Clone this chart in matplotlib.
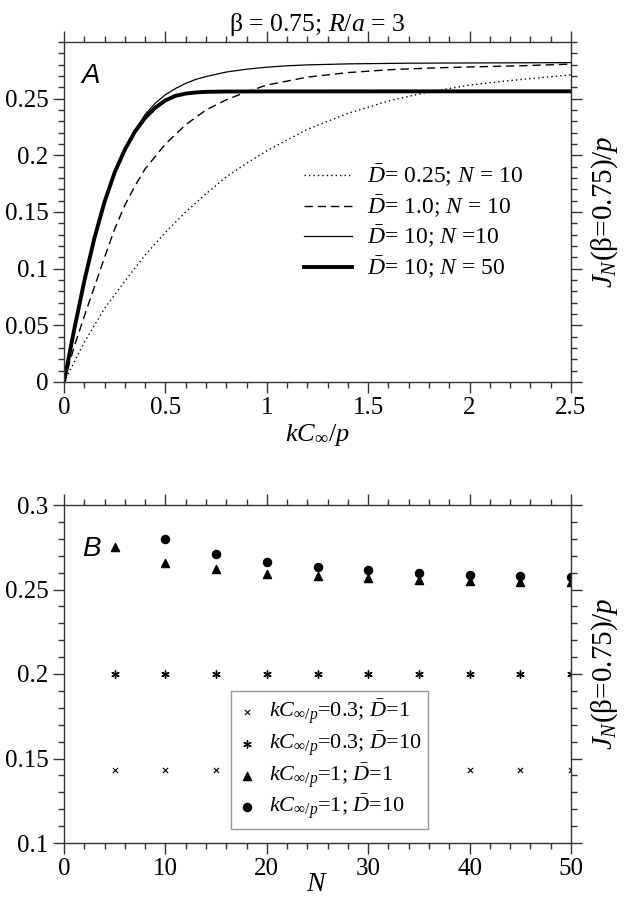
import matplotlib
matplotlib.use("Agg")
import matplotlib.pyplot as plt
from matplotlib.ticker import MultipleLocator

plt.rcParams['font.family'] = ['Liberation Serif', 'DejaVu Serif']
plt.rcParams['mathtext.fontset'] = 'custom'
plt.rcParams['mathtext.rm'] = 'Liberation Serif'
plt.rcParams['mathtext.it'] = 'Liberation Serif:italic'
plt.rcParams['mathtext.bf'] = 'Liberation Serif:bold'

# ---------------- Panel A data ----------------
x_d025 = [0, 0.1, 0.2, 0.3, 0.4, 0.5, 0.6, 0.7, 0.8, 0.9, 1.0, 1.2, 1.4, 1.6, 1.8, 2.0, 2.2, 2.5]
y_d025 = [0, 0.035, 0.065, 0.089, 0.112, 0.132, 0.150, 0.166, 0.181, 0.193, 0.204, 0.223, 0.237, 0.248, 0.256, 0.262, 0.266, 0.271]

x_d1 = [0, 0.05, 0.1, 0.15, 0.2, 0.25, 0.3, 0.35, 0.4, 0.5, 0.6, 0.7, 0.8, 0.9, 1.0, 1.2, 1.4, 1.6, 1.8, 2.0, 2.25, 2.5]
y_d1 = [0, 0.031, 0.058, 0.084, 0.110, 0.135, 0.156, 0.173, 0.188, 0.210, 0.227, 0.240, 0.249, 0.256, 0.262, 0.269, 0.273, 0.2755, 0.277, 0.278, 0.279, 0.2805]

x_d10_n10 = [0, 0.05, 0.1, 0.15, 0.2, 0.25, 0.3, 0.35, 0.4, 0.45, 0.5, 0.55, 0.6, 0.65, 0.7, 0.8, 0.9, 1.0, 1.1, 1.2, 1.4, 1.7, 2.0, 2.5]
y_d10_n10 = [0, 0.046, 0.089, 0.127, 0.159, 0.185, 0.205, 0.222, 0.236, 0.246, 0.2535, 0.259, 0.2635, 0.267, 0.2695, 0.2735, 0.276, 0.2778, 0.279, 0.2798, 0.2807, 0.2813, 0.2815, 0.2818]

x_d10_n50 = [0, 0.05, 0.1, 0.15, 0.2, 0.25, 0.3, 0.35, 0.4, 0.45, 0.5, 0.55, 0.6, 0.65, 0.7, 0.8, 1.0, 2.5]
y_d10_n50 = [0, 0.046, 0.089, 0.127, 0.159, 0.185, 0.205, 0.221, 0.233, 0.242, 0.2485, 0.2525, 0.2545, 0.2555, 0.256, 0.2563, 0.2564, 0.2565]

labels_A = [r"$\bar{D}$= 0.25; $N$ = 10",
            r"$\bar{D}$= 1.0; $N$ = 10",
            r"$\bar{D}$= 10; $N$ =10",
            r"$\bar{D}$= 10; $N$ = 50"]
xticks_A = [0, 0.5, 1, 1.5, 2, 2.5]
xticklabels_A = ['0', '0.5', '1', '1.5', '2', '2.5']
yticks_A = [0, 0.05, 0.1, 0.15, 0.2, 0.25]
yticklabels_A = ['0', '0.05', '0.1', '0.15', '0.2', '0.25']

# ---------------- Panel B data ----------------
N_vals = [5, 10, 15, 20, 25, 30, 35, 40, 45, 50]
j_k03_d1 = [0.143, 0.143, 0.143, 0.143, 0.143, 0.143, 0.143, 0.143, 0.143, 0.143]
j_k03_d10 = [0.2, 0.2, 0.2, 0.2, 0.2, 0.2, 0.2, 0.2, 0.2, 0.2]
j_k1_d1 = [0.2753, 0.2654, 0.2619, 0.2593, 0.2579, 0.2569, 0.2557, 0.2551, 0.2547, 0.2543]
N_circ = [10, 15, 20, 25, 30, 35, 40, 45, 50]
j_k1_d10 = [0.2798, 0.2711, 0.2662, 0.2632, 0.2615, 0.2599, 0.2587, 0.2579, 0.2573]

labels_B = [r"$kC_{\infty/p}$=0.3; $\bar{D}$=1",
            r"$kC_{\infty/p}$=0.3; $\bar{D}$=10",
            r"$kC_{\infty/p}$=1; $\bar{D}$=1",
            r"$kC_{\infty/p}$=1; $\bar{D}$=10"]
xticks_B = [0, 10, 20, 30, 40, 50]
xticklabels_B = ['0', '10', '20', '30', '40', '50']
yticks_B = [0.1, 0.15, 0.2, 0.25, 0.3]
yticklabels_B = ['0.1', '0.15', '0.2', '0.25', '0.3']

W, H = 625, 900
fig = plt.figure(figsize=(W / 100, H / 100), dpi=100)

def px_axes(left, top, right, bottom):
    return fig.add_axes([left / W, 1 - bottom / H, (right - left) / W, (bottom - top) / H])

axA = px_axes(64, 42, 571, 382)
axB = px_axes(64, 505, 571, 843)

ylab = r"$J_N$(β=0.75)/$p$"

def style(ax):
    for s in ax.spines.values():
        s.set_color('#333333')
        s.set_linewidth(1.0)
    ax.tick_params(which='both', direction='out', top=True, right=True,
                   labelsize=18, colors='#333333', labelcolor='black', width=1.0)
    ax.tick_params(which='major', length=8, pad=3)
    ax.tick_params(which='minor', length=4.5)

# Panel A
axA.plot(x_d025, y_d025, color='black', lw=1.0, linestyle=(0, (1, 2.2)), label=labels_A[0])
axA.plot(x_d1, y_d1, color='black', lw=1.0, linestyle=(0, (6, 3.5)), label=labels_A[1])
axA.plot(x_d10_n10, y_d10_n10, color='black', lw=0.9, label=labels_A[2])
axA.plot(x_d10_n50, y_d10_n50, color='black', lw=2.8, label=labels_A[3])
axA.set_xlim(0, 2.5)
axA.set_ylim(0, 0.3)
axA.set_xticks(xticks_A)
axA.set_xticklabels(xticklabels_A)
axA.set_yticks(yticks_A)
axA.set_yticklabels(yticklabels_A)
axA.xaxis.set_minor_locator(MultipleLocator(0.1))
axA.yaxis.set_minor_locator(MultipleLocator(0.01))
style(axA)
axA.set_xlabel(r"$kC_\infty/p$", fontsize=19, labelpad=2)
axA.yaxis.set_label_position('right')
axA.set_ylabel(ylab, fontsize=21, rotation=90, labelpad=5)
axA.text(0.035, 0.9, "A", transform=axA.transAxes, fontsize=20,
         family='Liberation Sans', style='italic', va='center', ha='left')
axA.set_title(r"β = 0.75; $R/a$ = 3", fontsize=18.5, pad=8)
legA = axA.legend(loc='upper left', bbox_to_anchor=(0.474, 0.646), frameon=False,
                  fontsize=17, handlelength=2.0, handletextpad=0.65, labelspacing=0.18,
                  borderaxespad=0, borderpad=0)

# Panel B
axB.scatter(N_vals, j_k03_d1, marker='x', s=14, color='black', linewidths=0.8, label=labels_B[0], zorder=2)
axB.scatter(N_vals, j_k03_d10, marker=(6, 2, 0), s=28, color='black', linewidths=1.0, label=labels_B[1], zorder=2)
axB.scatter(N_vals, j_k1_d1, marker='^', s=34, color='black', label=labels_B[2], zorder=2)
axB.scatter(N_circ, j_k1_d10, marker='o', s=34, color='black', label=labels_B[3], zorder=2)
axB.set_xlim(0, 50)
axB.set_ylim(0.1, 0.3)
axB.set_xticks(xticks_B)
axB.set_xticklabels(xticklabels_B)
axB.set_yticks(yticks_B)
axB.set_yticklabels(yticklabels_B)
axB.xaxis.set_minor_locator(MultipleLocator(2))
axB.yaxis.set_minor_locator(MultipleLocator(0.01))
style(axB)
axB.set_xlabel(r"$N$", fontsize=20, labelpad=-6)
axB.yaxis.set_label_position('right')
axB.set_ylabel(ylab, fontsize=21, rotation=90, labelpad=5)
axB.text(0.035, 0.87, "B", transform=axB.transAxes, fontsize=20,
         family='Liberation Sans', style='italic', va='center', ha='left')
legB = axB.legend(loc='lower left', bbox_to_anchor=(167 / 507, 14 / 338), frameon=True,
                  fancybox=False, edgecolor='#999999', framealpha=1.0,
                  fontsize=16, handlelength=0.8, handletextpad=0.6, labelspacing=0.12,
                  borderaxespad=0, borderpad=0.3, scatterpoints=1)
legB.get_frame().set_linewidth(1.0)
legB.set_zorder(5)

fig.savefig("out.png", dpi=100)
